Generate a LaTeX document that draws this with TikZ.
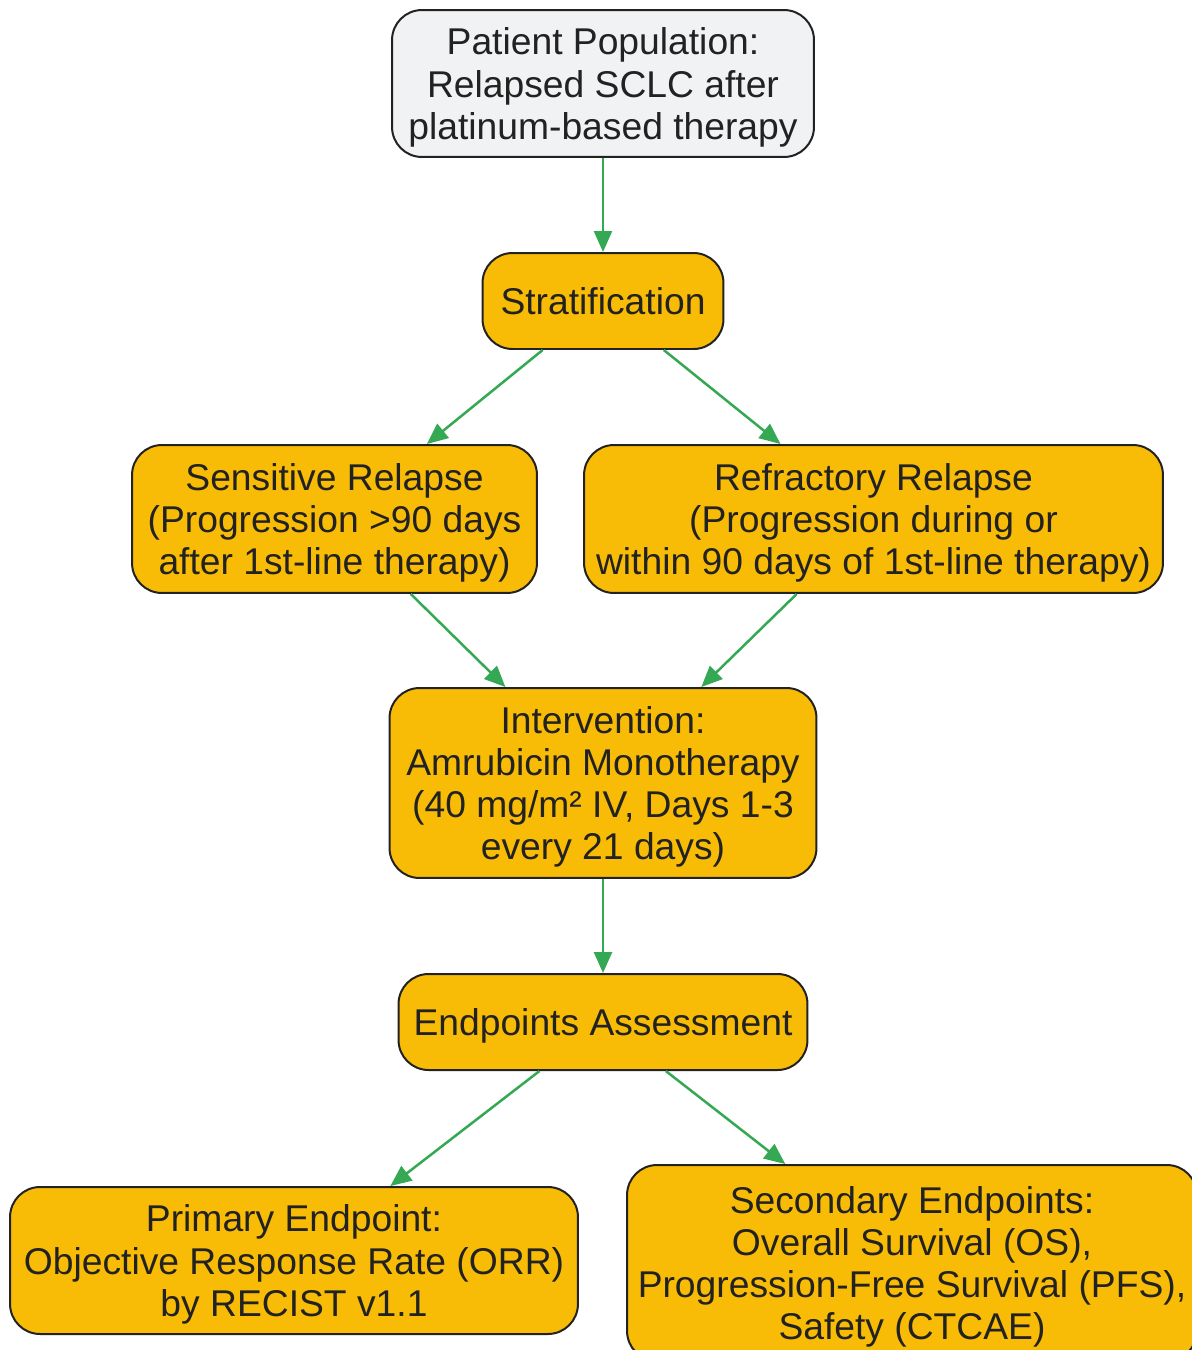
\documentclass[tikz,border=0pt]{standalone}
\usepackage{fontspec}
\setmainfont{Liberation Sans}
\usetikzlibrary{arrows.meta}
\definecolor{stepfill}{HTML}{F9BC06}
\definecolor{startfill}{HTML}{F1F2F4}
\definecolor{linkgreen}{HTML}{34A853}
\definecolor{inkdark}{HTML}{222222}

\begin{document}
\begin{tikzpicture}[x=0.02cm,y=-0.02cm,
    box/.style={shape=rectangle,rounded corners=0.6cm,draw=inkdark,line width=0.04cm,fill=stepfill,text=inkdark,align=center,font=\fontsize{21.2}{24}\selectfont,inner sep=0pt,text depth=0pt},
    flow/.style={-{Triangle[length=0.42cm,width=0.36cm]},line width=0.05cm,color=linkgreen}]
    \useasboundingbox (0,0) rectangle (1191,1350);
    \node[box,fill=startfill,minimum width=8.44cm,minimum height=2.94cm] (Pop) at (603,83.5) {Patient Population:\\Relapsed SCLC after\\platinum-based therapy};
    \node[box,minimum width=4.82cm,minimum height=1.92cm] (Strat) at (603,301) {Stratification};
    \node[box,minimum width=8.1cm,minimum height=2.96cm] (Sens) at (334.5,519) {Sensitive Relapse\\(Progression >90 days\\after 1st-line therapy)};
    \node[box,minimum width=11.58cm,minimum height=2.96cm] (Refr) at (873.5,519) {Refractory Relapse\\(Progression during or\\within 90 days of 1st-line therapy)};
    \node[box,minimum width=8.54cm,minimum height=3.8cm] (Treat) at (603,783) {Intervention:\\Amrubicin Monotherapy\\(40 mg/m² IV, Days 1-3\\every 21 days)};
    \node[box,minimum width=8.18cm,minimum height=1.92cm] (Assess) at (603,1022) {Endpoints Assessment};
    \node[box,minimum width=11.36cm,minimum height=2.94cm] (Prim) at (294,1260.5) {Primary Endpoint:\\Objective Response Rate (ORR)\\by RECIST v1.1};
    \node[box,minimum width=11.4cm,minimum height=3.92cm] (Sec) at (912,1263) {Secondary Endpoints:\\Overall Survival (OS),\\Progression-Free Survival (PFS),\\Safety (CTCAE)};
    \path (Pop) edge[flow] (Strat);
    \path (Strat) edge[flow] (Sens);
    \path (Strat) edge[flow] (Refr);
    \path (Sens) edge[flow] (Treat);
    \path (Refr) edge[flow] (Treat);
    \path (Treat) edge[flow] (Assess);
    \path (Assess) edge[flow] (Prim);
    \path (Assess) edge[flow] (Sec);
\end{tikzpicture}
\end{document}
